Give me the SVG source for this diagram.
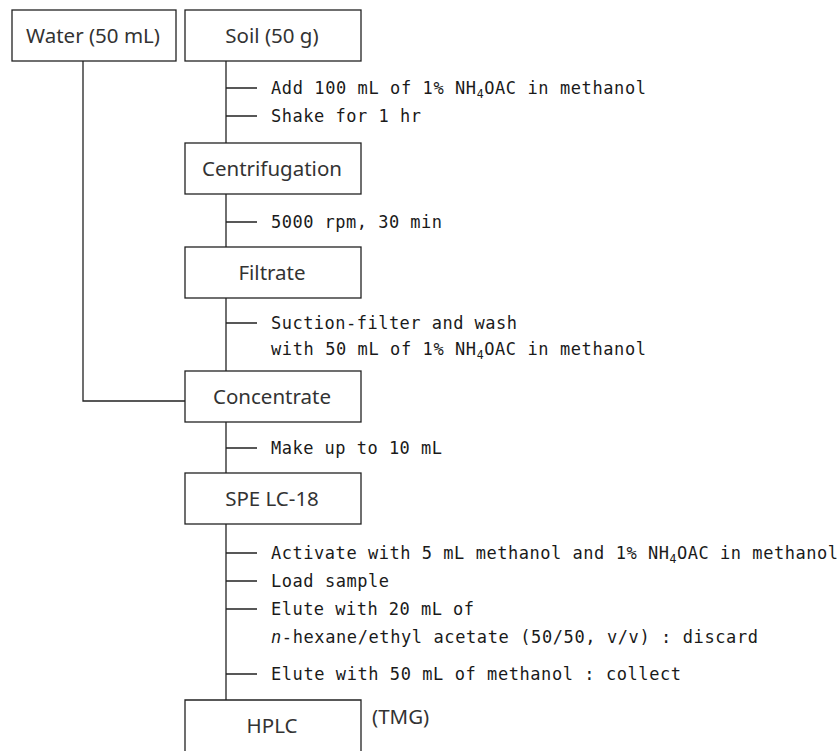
<svg xmlns="http://www.w3.org/2000/svg" width="840" height="751" viewBox="0 0 840 751">
<style>
.box{fill:#fff;stroke:#222;stroke-width:1.3}
.ln{fill:none;stroke:#222;stroke-width:1.3}
.lbl{font-family:"Noto Sans","Liberation Sans",sans-serif;font-size:20.5px;fill:#333;text-anchor:middle}
.note{font-family:"DejaVu Sans Mono","Liberation Mono",monospace;font-size:17px;fill:#1a1a1a}
.sub{font-size:11.5px}
</style>
<rect width="840" height="751" fill="#fff"/>
<g id="connectors">
<path class="ln" d="M83 61V401H185"/>
<path class="ln" d="M226 61V700"/>
<path class="ln" d="M226 88H257M226 116H257M226 222H257M226 323H257M226 448H257M226 553H257M226 581H257M226 609H257M226 674H257"/>
</g>
<g id="water"><rect class="box" x="12" y="10" width="164" height="51"/><text class="lbl" x="93" y="43">Water (50 mL)</text></g>
<g id="soil"><rect class="box" x="185" y="10" width="176" height="51"/><text class="lbl" x="272" y="43">Soil (50 g)</text></g>
<g id="centrifugation"><rect class="box" x="185" y="143" width="176" height="51"/><text class="lbl" x="272" y="176">Centrifugation</text></g>
<g id="filtrate"><rect class="box" x="185" y="247" width="176" height="51"/><text class="lbl" x="272" y="280">Filtrate</text></g>
<g id="concentrate"><rect class="box" x="185" y="371" width="176" height="51"/><text class="lbl" x="272" y="404">Concentrate</text></g>
<g id="spe"><rect class="box" x="185" y="473" width="176" height="51"/><text class="lbl" x="272" y="506">SPE LC-18</text></g>
<g id="hplc"><path class="box" d="M185 760V700H361V760"/><text class="lbl" x="272" y="733">HPLC</text><text class="lbl" x="372" y="724" style="text-anchor:start">(TMG)</text></g>
<g id="notes">
<text class="note" x="271" y="94" textLength="375">Add 100 mL of 1% NH<tspan class="sub" dy="4">4</tspan><tspan dy="-4">OAC in methanol</tspan></text>
<text class="note" x="271" y="122" textLength="150">Shake for 1 hr</text>
<text class="note" x="271" y="228" textLength="171">5000 rpm, 30 min</text>
<text class="note" x="271" y="329" textLength="246">Suction-filter and wash</text>
<text class="note" x="271" y="355" textLength="375">with 50 mL of 1% NH<tspan class="sub" dy="4">4</tspan><tspan dy="-4">OAC in methanol</tspan></text>
<text class="note" x="271" y="454" textLength="171">Make up to 10 mL</text>
<text class="note" x="271" y="559" textLength="567">Activate with 5 mL methanol and 1% NH<tspan class="sub" dy="4">4</tspan><tspan dy="-4">OAC in methanol</tspan></text>
<text class="note" x="271" y="587" textLength="118">Load sample</text>
<text class="note" x="271" y="615" textLength="203">Elute with 20 mL of</text>
<text class="note" x="271" y="643" textLength="487"><tspan font-style="italic">n</tspan>-hexane/ethyl acetate (50/50, v/v) : discard</text>
<text class="note" x="271" y="680" textLength="410">Elute with 50 mL of methanol : collect</text>
</g>
</svg>
